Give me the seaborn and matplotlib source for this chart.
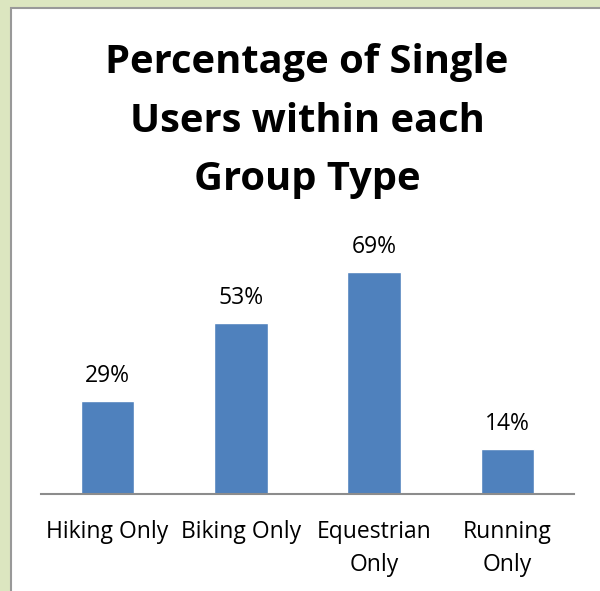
import matplotlib
matplotlib.use("Agg")
import matplotlib.pyplot as plt
import matplotlib.patches as mpatches
import seaborn as sns
import pandas as pd

categories = ["Hiking Only", "Biking Only", "Equestrian\nOnly", "Running\nOnly"]
values = [29, 53, 69, 14]
value_labels = ["29%", "53%", "69%", "14%"]
title = "Percentage of Single\nUsers within each\nGroup Type"

sns.set_style("white")
plt.rcParams['font.family'] = ['Open Sans', 'DejaVu Sans']
plt.rcParams['text.color'] = 'black'
plt.rcParams['xtick.color'] = 'black'

fig = plt.figure(figsize=(6, 5.91), dpi=100)
fig.patch.set_facecolor("#dce6c0")
# white chart panel with grey frame, behind the axes
panel = mpatches.Rectangle((11 / 600, -0.1), 1, 1.1 - 8 / 591, transform=fig.transFigure,
                           facecolor="white", edgecolor="#999999", linewidth=1.5, zorder=-5)
fig.patches.append(panel)

ax = fig.add_axes([41 / 600, 97 / 591, 533 / 600, (494 - 236.4) / 591])
df = pd.DataFrame({"cat": categories, "val": values})
sns.barplot(data=df, x="cat", y="val", color="#4f81bd", saturation=1, width=0.4, ax=ax)
ax.set_xlim(-0.5, 3.5)
ax.set_ylim(0, 80)
ax.patch.set_alpha(0)
for s in ["top", "right", "left"]:
    ax.spines[s].set_visible(False)
ax.spines["bottom"].set_color("#8c8c8c")
ax.spines["bottom"].set_linewidth(1.5)
ax.set_yticks([])
ax.set_xlabel("")
ax.set_ylabel("")
ax.tick_params(axis="x", length=0, labelsize=16.5, pad=19)
for lbl in ax.get_xticklabels():
    lbl.set_linespacing(1.5)

for i, (v, t) in enumerate(zip(values, value_labels)):
    ax.text(i, v + 4.0, t, ha="center", va="bottom", fontsize=16.5)

fig.text(307 / 600, 1 - 121 / 591, title, ha="center", va="center",
         fontsize=28.7, fontweight="bold", linespacing=1.66)

fig.savefig("out.png", dpi=100)
